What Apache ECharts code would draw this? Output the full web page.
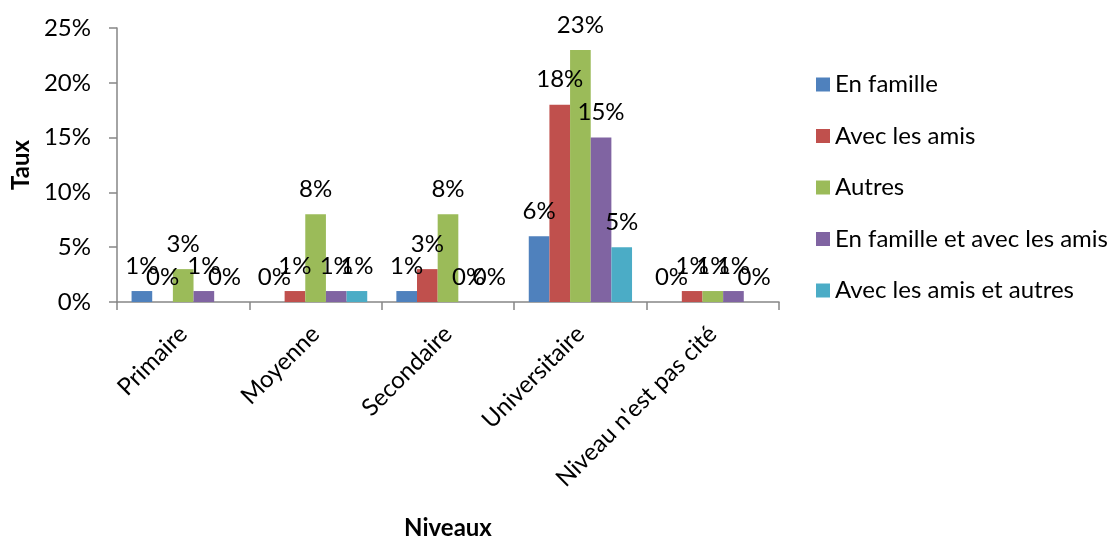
<!DOCTYPE html>
<html>
<head>
<meta charset="utf-8">
<script src="https://cdn.jsdelivr.net/npm/echarts@6/dist/echarts.min.js"></script>
<style>
  html, body { margin: 0; padding: 0; background: #fff; }
  #chart { width: 1119px; height: 538px; }
</style>
</head>
<body>
<div id="chart"></div>
<script>
var niveaux = ['Primaire', 'Moyenne', 'Secondaire', 'Universitaire', "Niveau n'est pas cité"]
var series_names = ['En famille', 'Avec les amis', 'Autres', 'En famille et avec les amis', 'Avec les amis et autres']
var en_famille = [1, 0, 1, 6, 0]
var avec_amis = [0, 1, 3, 18, 1]
var autres = [3, 8, 8, 23, 1]
var famille_amis = [1, 1, 0, 15, 1]
var amis_autres = [0, 1, 0, 5, 0]
var colors = ['#4F81BD', '#C0504D', '#9BBB59', '#8064A2', '#4BACC6']

var font = 'Lato, "Open Sans", sans-serif'
var fs = 24
var chart = echarts.init(document.getElementById('chart'))

function make_series(name, data, idx) {
  return {
    name: name,
    type: 'bar',
    data: data,
    barGap: '0%',
    barCategoryGap: '22%',
    itemStyle: { color: colors[idx] },
    label: {
      show: true,
      position: 'top',
      distance: 13,
      formatter: '{c}%',
      color: '#000',
      fontSize: fs,
      fontFamily: font
    }
  }
}

chart.setOption({
  animation: false,
  grid: {
    left: 117,
    top: 28,
    right: 340,
    bottom: 236,
    outerBoundsMode: 'none'
  },
  legend: {
    orient: 'vertical',
    left: 811,
    top: 67,
    itemWidth: 14,
    itemHeight: 14,
    itemGap: 26.5,
    icon: 'rect',
    textStyle: { fontSize: fs, lineHeight: 25, fontFamily: font, color: '#000' },
    data: series_names
  },
  xAxis: {
    type: 'category',
    data: niveaux,
    name: 'Niveaux',
    nameLocation: 'middle',
    nameGap: 214,
    nameTextStyle: { fontSize: 24, fontWeight: 'bold', fontFamily: font, color: '#000' },
    axisLine: { lineStyle: { color: '#868686', width: 1.5 } },
    axisTick: { show: true, length: 8, lineStyle: { color: '#868686', width: 1.5 } },
    axisLabel: { rotate: 45, fontSize: fs, fontFamily: font, color: '#000', margin: 28 }
  },
  yAxis: {
    type: 'value',
    min: 0,
    max: 25,
    interval: 5,
    name: 'Taux',
    nameLocation: 'middle',
    nameGap: 83,
    nameTextStyle: { fontSize: 24, fontWeight: 'bold', fontFamily: font, color: '#000' },
    splitLine: { show: false },
    axisLine: { show: true, lineStyle: { color: '#868686', width: 1.5 } },
    axisTick: { show: true, length: 8, lineStyle: { color: '#868686', width: 1.5 } },
    axisLabel: { formatter: '{value}%', fontSize: fs, fontFamily: font, color: '#000', margin: 26 }
  },
  series: [
    make_series(series_names[0], en_famille, 0),
    make_series(series_names[1], avec_amis, 1),
    make_series(series_names[2], autres, 2),
    make_series(series_names[3], famille_amis, 3),
    make_series(series_names[4], amis_autres, 4)
  ]
})
</script>
</body>
</html>
